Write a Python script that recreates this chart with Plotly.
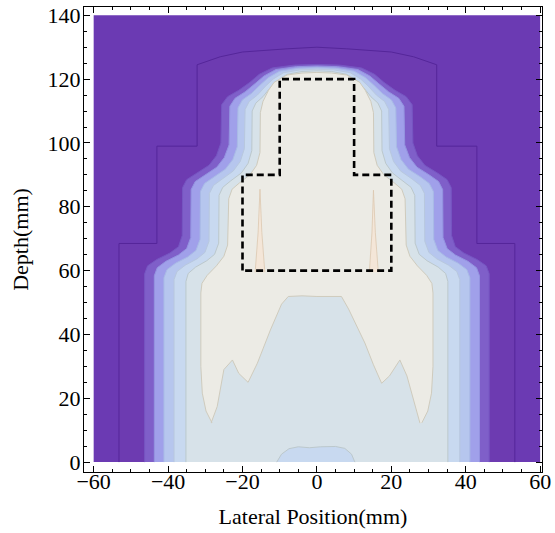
import plotly.graph_objects as go

# ---------------- axis ticks ----------------
x_tick_vals = [-60, -40, -20, 0, 20, 40, 60]
x_tick_text = ["−60", "−40", "−20", "0", "20", "40", "60"]
y_tick_vals = [0, 20, 40, 60, 80, 100, 120, 140]
y_tick_text = ["0", "20", "40", "60", "80", "100", "120", "140"]

# ---------------- calculation grid extent ----------------
lateral_extent = [-60, 60]
depth_extent = [0, 140]

# ---------------- isodose boundaries (half-width vs depth, mirrored about x=0) ----------------
iso1_depth = [0, 68.5, 68.5, 99, 99, 124.5, 127, 128.5, 129.5, 130]
iso1_half = [53.2, 53.2, 43, 43, 32.2, 32.2, 26, 20, 8, 0]

iso2_depth = [0, 59, 61.5, 63.5, 65.5, 67.5, 71, 86, 88.5, 90.5, 93, 96, 100, 112, 114.5, 116.5, 119, 121.5, 123.5, 124.4, 124.6]
iso2_half = [46.3, 46.3, 45.5, 43, 39.5, 37.2, 36.2, 36.1, 35, 32.5, 29, 27, 25.8, 25.6, 24, 21, 18, 15.5, 12, 6, 0]

iso3_depth = [0, 58.4, 60.9, 62.9, 64.9, 66.9, 70.4, 85.4, 87.9, 89.9, 92.4, 95.4, 99.4, 111.5, 114, 116, 118.6, 121, 123, 123.9, 124.1]
iso3_half = [43.7, 43.7, 42.9, 40.6, 37.2, 35, 33.9, 33.8, 32.7, 30.3, 26.9, 24.9, 23.6, 23.4, 22, 19.3, 16.6, 14.2, 11, 5.5, 0]

iso4_depth = [0, 57.8, 60.3, 62.3, 64.3, 66.3, 69.8, 84.8, 87.3, 89.3, 91.8, 94.8, 98.8, 111, 113.5, 115.5, 118.2, 120.5, 122.5, 123.4, 123.6]
iso4_half = [41.1, 41.1, 40.3, 38, 34.7, 32.5, 31.4, 31.3, 30.2, 27.9, 24.6, 22.6, 21.4, 21.2, 20, 17.6, 15.2, 13, 10, 5, 0]

iso5_depth = [0, 57.2, 59.7, 61.7, 63.7, 65.7, 69.2, 84.2, 86.7, 88.7, 91.2, 94.2, 98.2, 110.5, 113, 115, 117.8, 120, 122, 122.9, 123.1]
iso5_half = [38.4, 38.4, 37.6, 35.4, 32.2, 30.1, 29, 28.9, 27.8, 25.6, 22.5, 20.6, 19.5, 19.3, 18.2, 16, 13.8, 11.8, 9, 4.5, 0]

iso6_depth = [0, 56.6, 59.1, 61.1, 63.1, 65.1, 68.6, 83.6, 86.1, 88.1, 90.6, 93.6, 97.6, 110, 112.5, 114.5, 117.4, 119.5, 121.5, 122.4, 122.6]
iso6_half = [35.2, 35.2, 34.6, 32.6, 29.6, 27.5, 26.4, 26.3, 25.3, 23.2, 20.3, 18.5, 17.5, 17.4, 16.4, 14.5, 12.5, 10.7, 8, 4, 0]

# highest broad level (beige): outer edge (right half, from the lower tip upward)
iso7_outer_depth = [12.3, 16, 21.6, 30, 53, 56, 58.5, 61.5, 64.5, 68, 82.5, 85.5, 87.5, 90, 93, 97, 109.5, 113, 116.5, 119, 121.3, 121.9, 122.1]
iso7_outer_half = [28.2, 29.8, 30.8, 31.2, 31.2, 30.9, 29.5, 27, 25, 24, 23.7, 22.8, 20.8, 18, 16.2, 15.3, 15.2, 14.5, 13, 11.5, 8, 4, 0]
# inner (lower) edge of the beige level, from left tip to right tip
iso7_inner_x = [-28.4, -26.8, -25, -22.7, -21, -18.5, -16, -12.5, -9.5, -7.7, -4, 0, 3, 6.6, 8.5, 10.8, 12.9, 15.2, 17.4, 19.5, 22.3, 24.2, 26, 27.7]
iso7_inner_y = [12.4, 17.4, 29, 32, 27.8, 25, 31, 41.4, 49.5, 51.9, 52.1, 51.9, 52, 51.9, 48, 42.5, 37.3, 30.5, 24.7, 27, 32, 27, 19.5, 12.2]

# lower-dose blob at the surface (light blue level inside the pale band)
blob_x = [-10.8, -9.5, -7.5, -5, -2, 1, 5, 7.5, 9.3, 10.2]
blob_y = [0, 2.5, 4.2, 4.8, 4.5, 4.8, 4.9, 4.3, 2.5, 0]

# hot spikes (peach level)
spikeL_x = [-16.6, -15.8, -15.3, -14.8, -14.0]
spikeL_y = [59.5, 72, 85.5, 72, 59.5]
spikeR_x = [14.1, 14.8, 15.2, 15.7, 16.5]
spikeR_y = [59.5, 72, 85.2, 72, 59.5]

# target outline (dashed)
target_x = [-20, -20, -10, -10, 10, 10, 20, 20, -20]
target_y = [60, 90, 90, 120, 120, 90, 90, 60, 60]

# ---------------- styles ----------------
band_fill = ["#6b3ab3", "#6d3bb1", "#7f5fc9", "#a0a0ea", "#b6c6ee", "#c8d9f0", "#d7e2e9", "#ecebe5", "#f4e6d8"]
band_line = ["#6b3ab3", "#55269a", "#7656c2", "#9494e0", "#a9bbe6", "#b8c8de", "#bcc8cc", "#cfcbbd", "#dcc8b0"]

font_family = "Liberation Serif, Times New Roman, serif"
font_size = 22

fig = go.Figure()


def mirrored(depth, half):
    xs = list(half) + [-h for h in reversed(half)]
    ys = list(depth) + list(reversed(depth))
    return xs, ys


# background (lowest level) over the calculation extent
fig.add_trace(go.Scatter(
    x=[lateral_extent[0], lateral_extent[1], lateral_extent[1], lateral_extent[0]],
    y=[depth_extent[0], depth_extent[0], depth_extent[1], depth_extent[1]],
    fill="toself", fillcolor=band_fill[0], mode="lines", line=dict(width=0),
    hoverinfo="skip", showlegend=False))

levels = [
    (iso1_depth, iso1_half),
    (iso2_depth, iso2_half),
    (iso3_depth, iso3_half),
    (iso4_depth, iso4_half),
    (iso5_depth, iso5_half),
    (iso6_depth, iso6_half),
]
for k, (d, h) in enumerate(levels, start=1):
    xs, ys = mirrored(d, h)
    fig.add_trace(go.Scatter(
        x=xs, y=ys, fill="toself", fillcolor=band_fill[k], mode="lines",
        line=dict(width=0), hoverinfo="skip", showlegend=False))
    fig.add_trace(go.Scatter(
        x=xs, y=ys, mode="lines", line=dict(color=band_line[k], width=1),
        hoverinfo="skip", showlegend=False))

# beige level: outer edge right side up, left side down, then inner edge left->right
bx = list(iso7_outer_half) + [-h for h in reversed(iso7_outer_half)] + iso7_inner_x
by = list(iso7_outer_depth) + list(reversed(iso7_outer_depth)) + iso7_inner_y
fig.add_trace(go.Scatter(
    x=bx, y=by, fill="toself", fillcolor=band_fill[7], mode="lines",
    line=dict(color=band_line[7], width=1), hoverinfo="skip", showlegend=False))

# surface blob
fig.add_trace(go.Scatter(
    x=blob_x, y=blob_y, fill="toself", fillcolor=band_fill[5], mode="lines",
    line=dict(color=band_line[6], width=1), hoverinfo="skip", showlegend=False))

# spikes
for sx, sy in [(spikeL_x, spikeL_y), (spikeR_x, spikeR_y)]:
    fig.add_trace(go.Scatter(
        x=sx, y=sy, fill="toself", fillcolor=band_fill[8], mode="lines",
        line=dict(color=band_line[8], width=0.8), hoverinfo="skip", showlegend=False))

# target
fig.add_trace(go.Scatter(
    x=target_x, y=target_y, mode="lines",
    line=dict(color="black", width=2.6, dash="7px,4px"),
    hoverinfo="skip", showlegend=False))

axis_common = dict(
    showgrid=False, zeroline=False, automargin=False,
    showline=True, linecolor="black", linewidth=1, mirror="allticks",
    ticks="inside", ticklen=6, tickwidth=1, tickcolor="black",
    ticklabeloverflow="allow",
    tickfont=dict(family=font_family, size=font_size, color="black"),
    minor=dict(dtick=5, tick0=0, ticks="inside", ticklen=3, tickwidth=1, tickcolor="black"),
)

fig.update_layout(
    width=555, height=533,
    margin=dict(l=84, r=13, t=7, b=61),
    paper_bgcolor="white", plot_bgcolor="white",
    font=dict(family=font_family, size=font_size, color="black"),
    xaxis=dict(range=[-62.6, 60.5], tickmode="array", tickvals=x_tick_vals, ticktext=x_tick_text,
               ticklabelstandoff=-10,
               title=dict(text="Lateral Position(mm)", font=dict(family=font_family, size=font_size), standoff=15),
               **axis_common),
    yaxis=dict(range=[-3.1, 142.6], tickmode="array", tickvals=y_tick_vals, ticktext=y_tick_text,
               ticklabelstandoff=-2,
               title=dict(text="Depth(mm)", font=dict(family=font_family, size=font_size), standoff=12),
               **axis_common),
)

# remove the default page margin so the figure fills the window exactly
fig.write_html(
    "out.html",
    config={"displayModeBar": False},
    post_script="document.body.style.margin='0px';document.body.style.overflow='hidden';",
)
